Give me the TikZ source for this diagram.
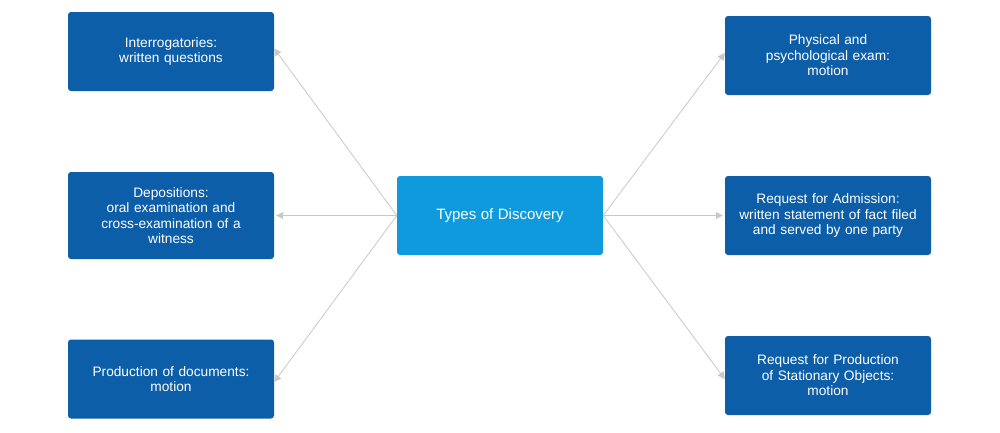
\documentclass[tikz,border=0pt]{standalone}
\usepackage{fontspec}
\setmainfont{Liberation Sans}
\usetikzlibrary{arrows.meta}
\definecolor{boxblue}{RGB}{12,94,168}
\definecolor{centerblue}{RGB}{14,154,221}
\definecolor{linegray}{RGB}{200,200,200}
\begin{document}
\begin{tikzpicture}[x=1pt,y=-1pt,
  box/.style={rectangle,rounded corners=3pt,fill=boxblue,text=white,minimum width=206pt,text width=196pt,align=center,font=\fontsize{13.7}{15.5}\selectfont,inner sep=0pt},
  conn/.style={draw=linegray,line width=0.8pt,-{Triangle[open,length=7pt,width=7pt,fill=linegray]}}]
\useasboundingbox (0,0) rectangle (1000,432);
\node[box,fill=centerblue,minimum height=79pt] (c) at (500,215.5) {\fontsize{15}{17}\selectfont Types of Discovery};
\node[box,minimum height=79pt] (l1) at (171,51.5) {Interrogatories:\\written questions};
\node[box,minimum height=87pt] (l2) at (171,215.5) {Depositions:\\oral examination and\\cross-examination of a\\witness};
\node[box,minimum height=79pt] (l3) at (171,379) {Production of documents:\\motion};
\node[box,minimum height=79pt] (r1) at (828,55.5) {Physical and\\psychological exam:\\motion};
\node[box,minimum height=79pt] (r2) at (828,215.5) {Request for Admission:\\written statement of fact filed\\and served by one party};
\node[box,minimum height=79pt] (r3) at (828,375.5) {Request for Production\\of Stationary Objects:\\motion};
\coordinate (cl) at (c.west);
\coordinate (cr) at (c.east);
\draw[conn] (cl) -- ([yshift=3pt]l1.east);
\draw[conn] (cl) -- ([xshift=2pt]l2.east);
\draw[conn] (cl) -- ([yshift=-3pt]l3.east);
\draw[conn] (cr) -- ([yshift=2.5pt]r1.west);
\draw[conn] (cr) -- ([xshift=-2pt]r2.west);
\draw[conn] (cr) -- ([yshift=-3.5pt]r3.west);
\end{tikzpicture}
\end{document}
